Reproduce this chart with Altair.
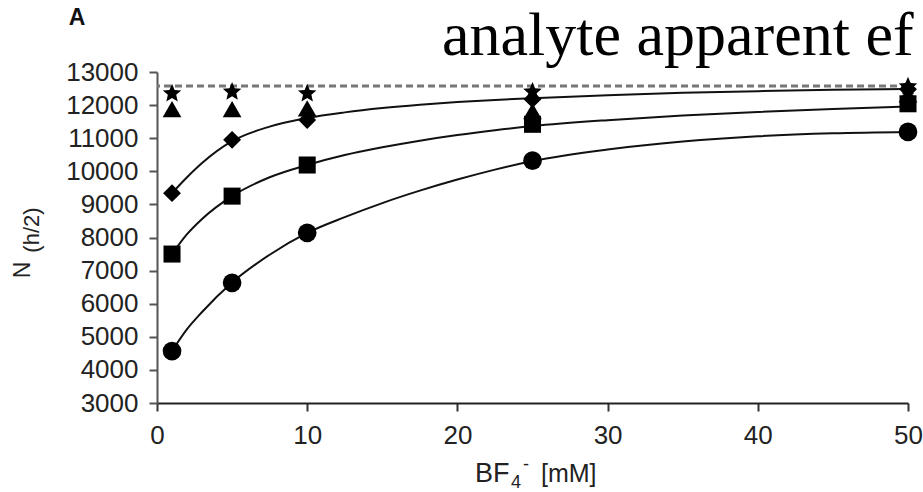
import altair as alt
import pandas as pd

# ---- data ----
conc = [1, 5, 10, 25, 50]
n_circle = [4570, 6630, 8140, 10320, 11190]
n_square = [7500, 9250, 10190, 11420, 12040]
n_diamond = [9340, 10950, 11550, 12180, 12480]
n_triangle = [11880, 11880, 11900, 11820, 12320]
n_star = [12350, 12400, 12350, 12400, 12560]

fit_x = [1, 2, 3, 5, 7.5, 10, 12.5, 15, 17.5, 20, 22.5, 25, 30, 35, 40, 45, 50]
fit_circle = [4570, 5230, 5750, 6640, 7480, 8140, 8615, 9040, 9415, 9750, 10050, 10310,
              10660, 10900, 11060, 11150, 11190]
fit_square = [7500, 8100, 8560, 9250, 9820, 10190, 10490, 10725, 10925, 11095, 11240, 11365,
              11545, 11685, 11795, 11885, 11960]
fit_diamond = [9340, 9820, 10250, 10910, 11350, 11610, 11780, 11910, 12010, 12090, 12155, 12210,
               12300, 12370, 12420, 12460, 12490]
plateau = [12580]

x_ticks = [0, 10, 20, 30, 40, 50]
y_ticks = [3000, 4000, 5000, 6000, 7000, 8000, 9000, 10000, 11000, 12000, 13000]

STAR = ("M0,-1 L0.265,-0.364 L0.951,-0.309 L0.428,0.139 L0.588,0.809 "
        "L0,0.45 L-0.588,0.809 L-0.428,0.139 L-0.951,-0.309 L-0.265,-0.364 Z")

FONT = "Liberation Sans"

xs = alt.Scale(domain=[0, 50], nice=False, zero=False)
ys = alt.Scale(domain=[3000, 13000], nice=False, zero=False)

x_axis = alt.Axis(values=x_ticks, title=None, grid=False, labelFont=FONT,
                  labelFontSize=26, labelColor="#222", labelPadding=11,
                  tickSize=8, tickWidth=2, tickColor="#333",
                  domainWidth=2, domainColor="#222", labelFlush=False)
y_axis = alt.Axis(values=y_ticks, title=None, grid=False, labelFont=FONT,
                  labelFontSize=26, labelColor="#222", labelPadding=11,
                  tickSize=8, tickWidth=2, tickColor="#555",
                  domainWidth=2, domainColor="#555", format="d")

n = len(fit_x)
fit_df = pd.DataFrame({
    "x": fit_x * 3,
    "y": fit_circle + fit_square + fit_diamond,
    "s": ["circle"] * n + ["square"] * n + ["diamond"] * n,
})

plateau_df = pd.DataFrame({"y": plateau})

dashed = alt.Chart(plateau_df).mark_rule(
    color="#777", strokeWidth=3, strokeDash=[7, 4]
).encode(y=alt.Y("y:Q", scale=ys, axis=y_axis))

curves = alt.Chart(fit_df).mark_line(
    color="#111", strokeWidth=2, interpolate="monotone"
).encode(
    x=alt.X("x:Q", scale=xs, axis=x_axis),
    y=alt.Y("y:Q", scale=ys, axis=y_axis),
    detail="s:N",
)


def pts(values, shape, size):
    df = pd.DataFrame({"x": conc, "y": values})
    return alt.Chart(df).mark_point(
        shape=shape, size=size, filled=True, color="black", opacity=1, strokeWidth=0
    ).encode(x=alt.X("x:Q", scale=xs, axis=x_axis), y=alt.Y("y:Q", scale=ys, axis=y_axis))


layers = [
    dashed,
    curves,
    pts(n_circle, "circle", 350),
    pts(n_square, "square", 290),
    pts(n_diamond, "diamond", 320),
    pts(n_triangle, "triangle-up", 350),
    pts(n_star, STAR, 380),
]


def label(text, x, y, size, font=FONT, angle=0, align="left", baseline="alphabetic",
          weight="normal", color="#222"):
    df = pd.DataFrame({"t": [text]})
    kw = dict(font=font, fontSize=size, align=align, baseline=baseline,
              fontWeight=weight, color=color)
    if angle:
        kw["angle"] = angle
    return alt.Chart(df).mark_text(**kw).encode(
        text="t:N", x=alt.value(x), y=alt.value(y)
    )


# annotations (positions relative to plot area origin at 157,72)
layers += [
    label("A", -80, -54, 23, weight="bold", align="center", baseline="middle", color="#111"),
    label("analyte apparent ef", 285, -17, 62, font="Liberation Serif", color="black"),
    label("N", -134, 198, 23, angle=270, align="center", baseline="middle"),
    label("(h/2)", -125, 158, 22, angle=270, align="center", baseline="middle"),
    label("BF", 318, 410, 27),
    label("4", 354, 416, 18),
    label("-", 366, 398, 18),
    label("[mM]", 384, 410, 25),
]

chart = alt.layer(*layers).properties(
    width=751, height=331,
    padding={"left": 157, "top": 72, "right": 15, "bottom": 89},
    autosize=alt.AutoSizeParams(type="none"),
).configure_view(stroke=None)

chart.save("out.html", embed_options={"renderer": "svg", "actions": False})
